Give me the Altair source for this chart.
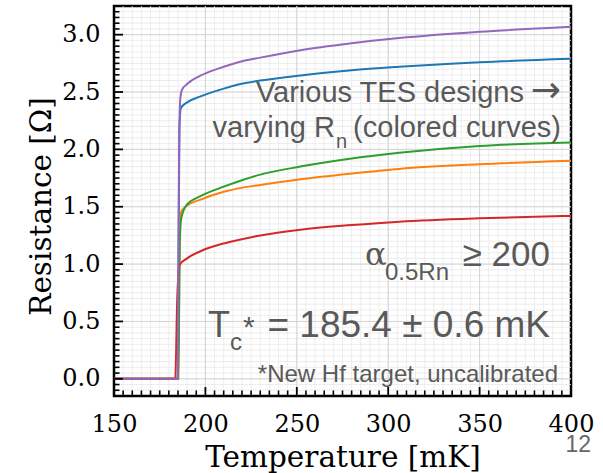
import altair as alt
import numpy as np
import pandas as pd

# Resistance vs temperature for five TES designs (T in mK, R in ohm)
blue_T = [150, 184.8, 185.8, 186.6, 190, 197, 210, 218, 230, 252, 280, 306, 350, 400]
blue_R = [0.0, 0.0, 2.20, 2.36, 2.41, 2.46, 2.53, 2.565, 2.60, 2.645, 2.69, 2.72, 2.76, 2.79]

orange_T = [150, 185.2, 186.0, 186.6, 190, 197, 210, 218, 230, 252, 280, 306, 350, 400]
orange_R = [0.0, 0.0, 1.35, 1.45, 1.51, 1.56, 1.63, 1.66, 1.69, 1.74, 1.79, 1.83, 1.87, 1.90]

green_T = [150, 185.2, 186.0, 186.8, 190, 197, 210, 218, 230, 252, 280, 306, 350, 400]
green_R = [0.0, 0.0, 1.20, 1.40, 1.52, 1.59, 1.675, 1.72, 1.78, 1.85, 1.92, 1.97, 2.03, 2.06]

red_T = [150, 183.5, 184.6, 185.8, 190, 197, 210, 218, 230, 252, 280, 306, 350, 400]
red_R = [0.0, 0.0, 0.70, 0.99, 1.05, 1.11, 1.18, 1.21, 1.25, 1.30, 1.34, 1.37, 1.40, 1.42]

purple_T = [150, 184.8, 185.6, 186.3, 187.2, 190, 197, 210, 218, 230, 252, 280, 306, 350, 400]
purple_R = [0.0, 0.0, 2.00, 2.45, 2.52, 2.57, 2.64, 2.72, 2.76, 2.80, 2.865, 2.925, 2.97, 3.025, 3.07]

series = [
    ("TES A", blue_T, blue_R, "#1f77b4"),
    ("TES B", orange_T, orange_R, "#ff7f0e"),
    ("TES C", green_T, green_R, "#2ca02c"),
    ("TES D", red_T, red_R, "#d62728"),
    ("TES E", purple_T, purple_R, "#9467bd"),
]

x_major = [150, 200, 250, 300, 350, 400]
y_major = [0.0, 0.5, 1.0, 1.5, 2.0, 2.5, 3.0]
x_minor = [round(v, 2) for v in np.arange(150, 400.01, 5)]
y_minor = [round(v, 2) for v in np.arange(-0.15, 3.2501, 0.05)]

W, H = 457, 390
xs = alt.Scale(domain=[150, 400], nice=False, zero=False)
ys = alt.Scale(domain=[-0.15, 3.25], nice=False, zero=False)

sans = "Liberation Sans"
serif = "DejaVu Serif"
grey = "#595959"


def vals(v):
    return pd.DataFrame({"v": v})


# axes: labels and titles only (ticks are drawn inward below)
axes = alt.Chart(vals([150, 400])).mark_point(opacity=0).encode(
    x=alt.X("v:Q", scale=xs, axis=alt.Axis(
        values=x_major, format="d", title="Temperature [mK]", grid=False, ticks=False,
        tickSize=0, domain=False, labelFont=serif, labelFontSize=24, labelColor="black",
        labelPadding=16, labelBaseline="top", titleFont=serif, titleFontSize=29.5,
        titleFontWeight="normal", titleColor="black", titleBaseline="alphabetic",
        titleX=W / 2, titleY=70.5, labelFlush=False)),
    y=alt.Y("v:Q", scale=ys, axis=alt.Axis(
        values=y_major, format=".1f", title="Resistance [Ω]", grid=False, ticks=False,
        tickSize=0, domain=False, labelFont=serif, labelFontSize=24, labelColor="black",
        labelPadding=14, titleFont=serif, titleFontSize=29.5, titleFontWeight="normal",
        titleColor="black", titleAngle=-90, titleBaseline="alphabetic",
        titleX=-64, titleY=200, labelFlush=False)),
)

# background grid (minor then major), leaving the frame edges untouched
gx_minor = alt.Chart(vals([v for v in x_minor if 150 < v < 400])).mark_rule(
    color="#e9e9e9", strokeWidth=0.8).encode(x=alt.X("v:Q", scale=xs))
gy_minor = alt.Chart(vals([v for v in y_minor if -0.15 < v < 3.25])).mark_rule(
    color="#e9e9e9", strokeWidth=0.8).encode(y=alt.Y("v:Q", scale=ys))
gx_major = alt.Chart(vals([v for v in x_major if 150 < v < 400])).mark_rule(
    color="#d4d4d4", strokeWidth=1).encode(x=alt.X("v:Q", scale=xs))
gy_major = alt.Chart(vals(y_major)).mark_rule(
    color="#d4d4d4", strokeWidth=1).encode(y=alt.Y("v:Q", scale=ys))

# curves, drawn one layer per design so purple ends on top
curves = []
for name, T, R, col in series:
    df = pd.DataFrame({"v": T, "R": R, "design": name})
    curves.append(
        alt.Chart(df).mark_line(color=col, strokeWidth=2, interpolate="monotone").encode(
            x=alt.X("v:Q", scale=xs),
            y=alt.Y("R:Q", scale=ys),
        )
    )

# inward tick marks on left and bottom
tx_minor = alt.Chart(vals([v for v in x_minor if v not in x_major])).mark_rule(
    color="black", strokeWidth=1.6).encode(
    x=alt.X("v:Q", scale=xs), y=alt.value(H), y2=alt.value(H - 5.5))
tx_major = alt.Chart(vals(x_major)).mark_rule(color="black", strokeWidth=1.8).encode(
    x=alt.X("v:Q", scale=xs), y=alt.value(H), y2=alt.value(H - 9))
ty_minor = alt.Chart(vals([v for v in y_minor if round(v, 2) not in y_major])).mark_rule(
    color="black", strokeWidth=1.6).encode(
    y=alt.Y("v:Q", scale=ys), x=alt.value(0), x2=alt.value(5.5))
ty_major = alt.Chart(vals(y_major)).mark_rule(color="black", strokeWidth=1.8).encode(
    y=alt.Y("v:Q", scale=ys), x=alt.value(0), x2=alt.value(9))


def label(text, x, y, size, align="left", font=sans, color=grey):
    return alt.Chart(pd.DataFrame({"t": [text]})).mark_text(
        align=align, baseline="alphabetic", font=font, fontSize=size, color=color
    ).encode(x=alt.value(x), y=alt.value(y), text="t:N")


notes = [
    label("Various TES designs", 410, 95.7, 29, "right"),
    label("→", 447, 95.7, 36, "right", font="DejaVu Sans"),
    label("varying R", 221, 130.7, 29, "right"),
    label("n", 222, 142, 20),
    label("(colored curves)", 447, 130.7, 29, "right"),
    label("α", 251, 259, 32, font=serif),
    label("0.5Rn", 271, 274, 24),
    label("≥ 200", 436, 260, 35, "right"),
    label("T", 94, 330.7, 36),
    label("c", 116, 344, 24),
    label("*", 129, 330.7, 30),
    label("= 185.4 ± 0.6 mK", 436, 330.7, 37, "right"),
    label("*New Hf target, uncalibrated", 444, 375.7, 24, "right"),
    label("12", 477, 446, 23, "right", color="#666666"),
]

chart = alt.layer(
    axes, gx_minor, gy_minor, gx_major, gy_major, *curves,
    tx_minor, tx_major, ty_minor, ty_major, *notes
).properties(
    width=W, height=H,
    autosize=alt.AutoSizeParams(type="none"),
    padding={"left": 114, "top": 6, "right": 32, "bottom": 77},
    background="white",
).configure_view(stroke="black", strokeWidth=2.5).configure_axis(
    grid=False, ticks=False, domain=False)

chart.save("out.html", embed_options={"renderer": "svg", "actions": False})
